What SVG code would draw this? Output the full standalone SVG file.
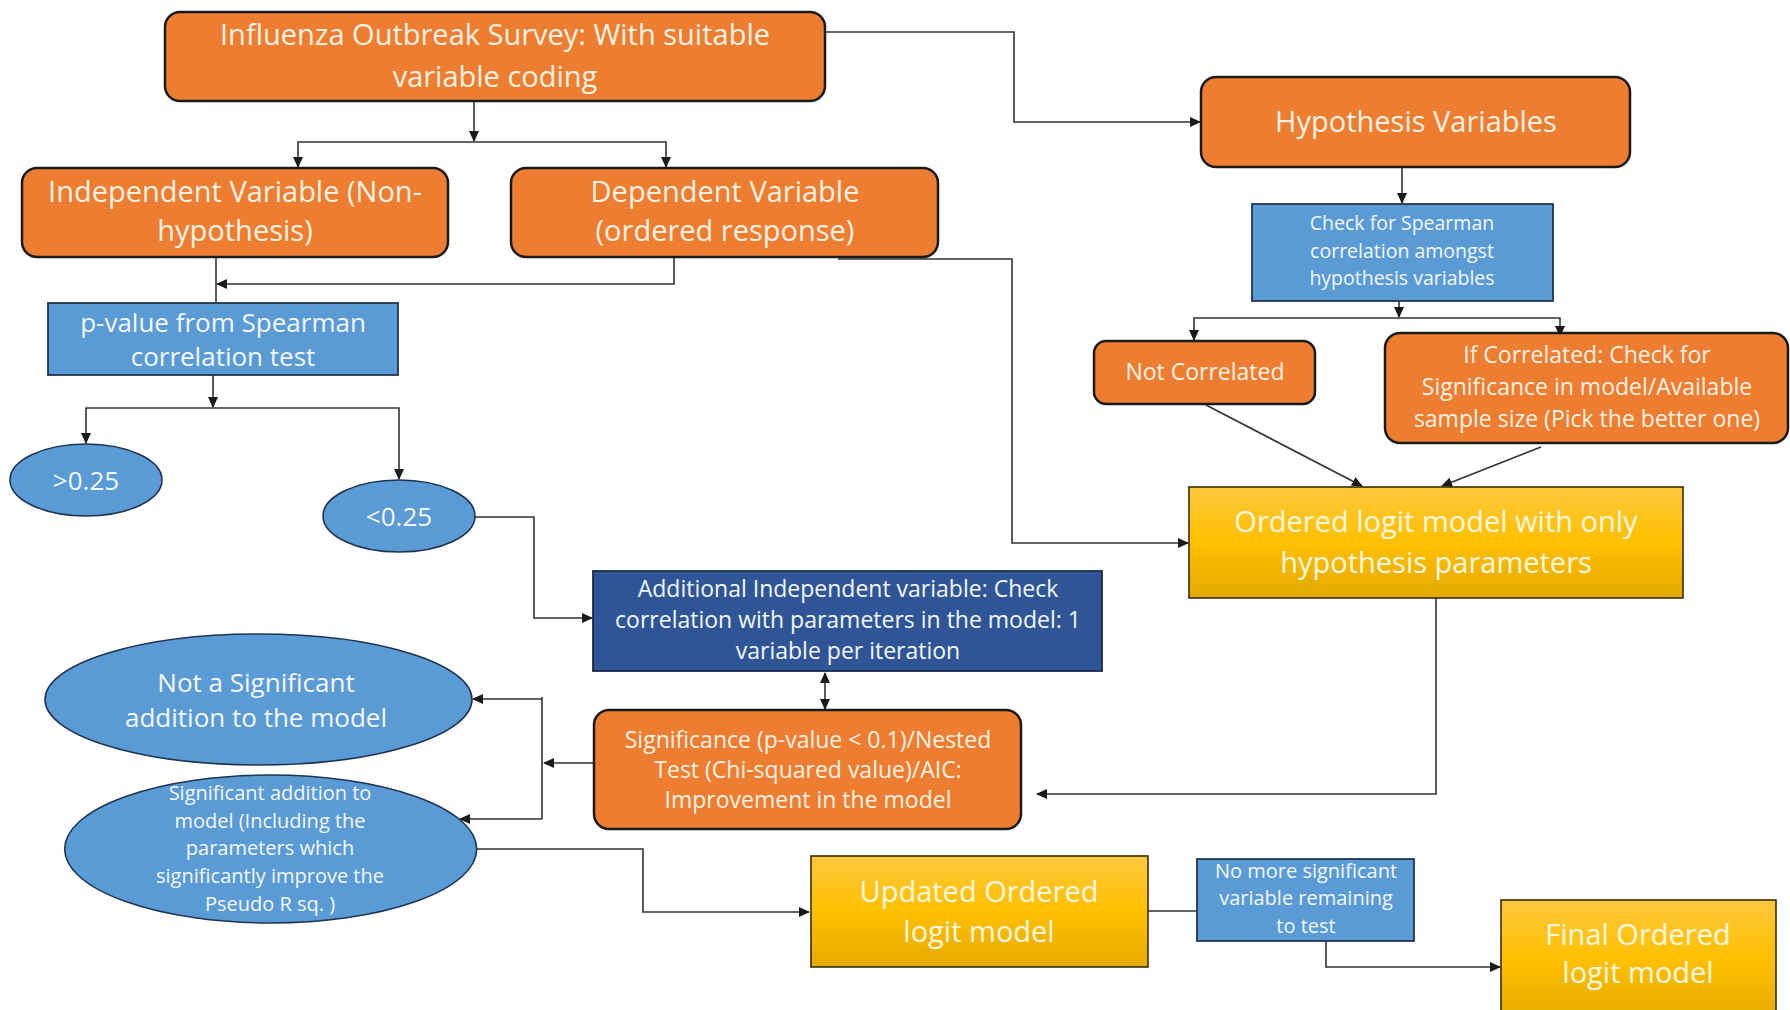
<svg xmlns="http://www.w3.org/2000/svg" width="1790" height="1010" viewBox="0 0 1790 1010">
<defs>
  <linearGradient id="gold" x1="0" y1="0" x2="0" y2="1">
    <stop offset="0" stop-color="#FFC83D"/>
    <stop offset="0.5" stop-color="#FFC000"/>
    <stop offset="1" stop-color="#E3AA00"/>
  </linearGradient>
  <marker id="arr" markerUnits="userSpaceOnUse" markerWidth="11" markerHeight="10" refX="10" refY="5" orient="auto">
    <path d="M0,0 L11,5 L0,10 z" fill="#1a1a1a"/>
  </marker>
  <marker id="arrs" markerUnits="userSpaceOnUse" markerWidth="11" markerHeight="10" refX="10" refY="5" orient="auto-start-reverse">
    <path d="M0,0 L11,5 L0,10 z" fill="#1a1a1a"/>
  </marker>
</defs>
<style>
  text { font-family: "Open Sans", "Liberation Sans", sans-serif; text-anchor: middle; }
  .orange { fill: #ED7D31; stroke: #1a1a1a; stroke-width: 2.5; }
  .blue { fill: #5B9BD5; stroke: #22344f; stroke-width: 1.8; }
  .navy { fill: #2F5597; stroke: #1b2b4a; stroke-width: 1.8; }
  .gold { fill: url(#gold); stroke: #3a2c08; stroke-width: 1.6; }
  .ell { fill: #5B9BD5; stroke: #1f3450; stroke-width: 1.6; }
  .to { fill: #FFF2E4; }
  .tb { fill: #F2F7FD; }
  .tg { fill: #FFF7E0; }
  .conn path { fill: none; stroke: #333333; stroke-width: 1.6; }
</style>
<rect width="1790" height="1010" fill="#ffffff"/>

<g id="connectors" class="conn">
  <path d="M474,101 V141" marker-end="url(#arr)"/>
  <path d="M474,142 H298 V167" marker-end="url(#arr)"/>
  <path d="M474,142 H666 V167" marker-end="url(#arr)"/>
  <path d="M825,32 H1014 V122 H1200" marker-end="url(#arr)"/>
  <path d="M1402,167 V203" marker-end="url(#arr)"/>
  <path d="M1399,301 V317" marker-end="url(#arr)"/>
  <path d="M1399,318 H1194 V340" marker-end="url(#arr)"/>
  <path d="M1399,318 H1560 V336" marker-end="url(#arr)"/>
  <path d="M1206,405 L1362,486" marker-end="url(#arr)"/>
  <path d="M1541,447 L1442,486" marker-end="url(#arr)"/>
  <path d="M838,259 H1012 V543 H1188" marker-end="url(#arr)"/>
  <path d="M216,257 V302"/>
  <path d="M674,257 V284 H217" marker-end="url(#arr)"/>
  <path d="M213,375 V407" marker-end="url(#arr)"/>
  <path d="M213,408 H86 V443" marker-end="url(#arr)"/>
  <path d="M213,408 H399 V479" marker-end="url(#arr)"/>
  <path d="M475,517 H534 V618 H592" marker-end="url(#arr)"/>
  <path d="M825,673 V709" marker-start="url(#arrs)" marker-end="url(#arrs)"/>
  <path d="M594,763 H544" marker-end="url(#arr)"/>
  <path d="M542,697 V819"/>
  <path d="M542,699 H473" marker-end="url(#arr)"/>
  <path d="M542,819 H460" marker-end="url(#arr)"/>
  <path d="M1436,598 V794 H1037" marker-end="url(#arr)"/>
  <path d="M476,849 H643 V912 H809" marker-end="url(#arr)"/>
  <path d="M1148,911 H1197"/>
  <path d="M1326,941 V967 H1500" marker-end="url(#arr)"/>
</g>

<g id="survey">
  <rect class="orange" x="165" y="12" width="660" height="89" rx="15"/>
  <text class="to" font-size="29" x="495" y="45">Influenza Outbreak Survey: With suitable</text>
  <text class="to" font-size="29" x="495" y="87">variable coding</text>
</g>

<g id="independent">
  <rect class="orange" x="22" y="168" width="426" height="89" rx="15"/>
  <text class="to" font-size="29" x="235" y="202">Independent Variable (Non-</text>
  <text class="to" font-size="29" x="235" y="241">hypothesis)</text>
</g>

<g id="dependent">
  <rect class="orange" x="511" y="168" width="427" height="89" rx="15"/>
  <text class="to" font-size="29" x="725" y="202">Dependent Variable</text>
  <text class="to" font-size="29" x="725" y="241">(ordered response)</text>
</g>

<g id="hypothesis">
  <rect class="orange" x="1201" y="77" width="429" height="90" rx="15"/>
  <text class="to" font-size="29" x="1416" y="132">Hypothesis Variables</text>
</g>

<g id="pvalue">
  <rect class="blue" x="48" y="303" width="350" height="72"/>
  <text class="tb" font-size="26" x="223" y="332">p-value from Spearman</text>
  <text class="tb" font-size="26" x="223" y="366">correlation test</text>
</g>

<g id="check">
  <rect class="blue" x="1252" y="204" width="301" height="97"/>
  <text class="tb" font-size="19.5" x="1402" y="230">Check for Spearman</text>
  <text class="tb" font-size="19.5" x="1402" y="258">correlation amongst</text>
  <text class="tb" font-size="19.5" x="1402" y="285">hypothesis variables</text>
</g>

<g id="notcorrelated">
  <rect class="orange" x="1094" y="341" width="221" height="63" rx="12"/>
  <text class="to" font-size="23" x="1205" y="380">Not Correlated</text>
</g>

<g id="ifcorrelated">
  <rect class="orange" x="1385" y="333" width="403" height="110" rx="15"/>
  <text class="to" font-size="23" x="1587" y="363">If Correlated: Check for</text>
  <text class="to" font-size="23" x="1587" y="395">Significance in model/Available</text>
  <text class="to" font-size="23" x="1587" y="427">sample size (Pick the better one)</text>
</g>

<g id="gt025">
  <ellipse class="ell" cx="86" cy="480" rx="76" ry="36"/>
  <text class="tb" font-size="26" x="86" y="490">&gt;0.25</text>
</g>

<g id="lt025">
  <ellipse class="ell" cx="399" cy="516" rx="76" ry="36"/>
  <text class="tb" font-size="26" x="399" y="526">&lt;0.25</text>
</g>

<g id="orderedlogit">
  <rect class="gold" x="1189" y="487" width="494" height="111"/>
  <text class="tg" font-size="29" x="1436" y="532">Ordered logit model with only</text>
  <text class="tg" font-size="29" x="1436" y="573">hypothesis parameters</text>
</g>

<g id="additional">
  <rect class="navy" x="593" y="571" width="509" height="100"/>
  <text class="tb" font-size="23" x="848" y="597">Additional Independent variable: Check</text>
  <text class="tb" font-size="23" x="848" y="628">correlation with parameters in the model: 1</text>
  <text class="tb" font-size="23" x="848" y="659">variable per iteration</text>
</g>

<g id="significance">
  <rect class="orange" x="594" y="710" width="427" height="119" rx="15"/>
  <text class="to" font-size="23" x="808" y="748">Significance (p-value &lt; 0.1)/Nested</text>
  <text class="to" font-size="23" x="808" y="778">Test (Chi-squared value)/AIC:</text>
  <text class="to" font-size="23" x="808" y="808">Improvement in the model</text>
</g>

<g id="notsignificant">
  <ellipse class="ell" cx="258.5" cy="699.5" rx="213.5" ry="65.5"/>
  <text class="tb" font-size="26" x="256" y="692">Not a Significant</text>
  <text class="tb" font-size="26" x="256" y="727">addition to the model</text>
</g>

<g id="significant">
  <ellipse class="ell" cx="270.7" cy="849" rx="206" ry="74"/>
  <text class="tb" font-size="20" x="270" y="800">Significant addition to</text>
  <text class="tb" font-size="20" x="270" y="828">model (Including the</text>
  <text class="tb" font-size="20" x="270" y="855">parameters which</text>
  <text class="tb" font-size="20" x="270" y="883">significantly improve the</text>
  <text class="tb" font-size="20" x="270" y="911">Pseudo R sq. )</text>
</g>

<g id="updated">
  <rect class="gold" x="811" y="856" width="337" height="111"/>
  <text class="tg" font-size="29" x="979" y="902">Updated Ordered</text>
  <text class="tg" font-size="29" x="979" y="942">logit model</text>
</g>

<g id="nomore">
  <rect class="blue" x="1197" y="859" width="217" height="82"/>
  <text class="tb" font-size="20" x="1306" y="878">No more significant</text>
  <text class="tb" font-size="20" x="1306" y="905">variable remaining</text>
  <text class="tb" font-size="20" x="1306" y="933">to test</text>
</g>

<g id="final">
  <rect class="gold" x="1501" y="900" width="275" height="120"/>
  <text class="tg" font-size="29" x="1638" y="945">Final Ordered</text>
  <text class="tg" font-size="29" x="1638" y="983">logit model</text>
</g>
</svg>
